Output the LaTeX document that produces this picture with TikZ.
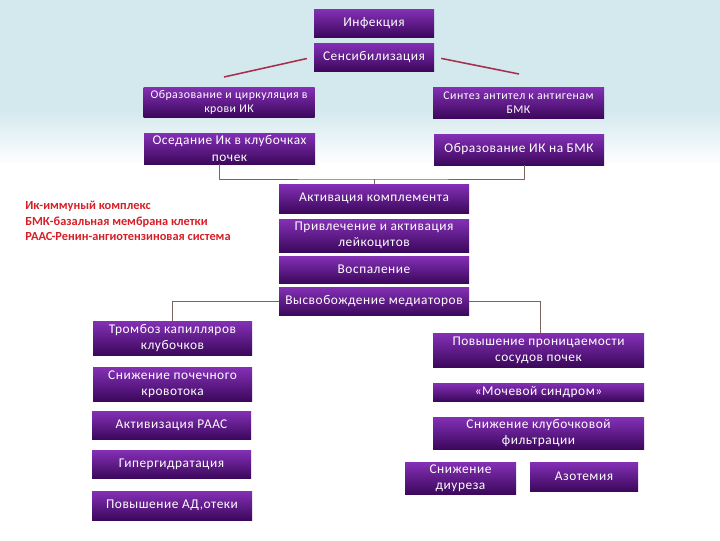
\documentclass[tikz,border=0pt]{standalone}
\usepackage{fontspec}
\setmainfont{Carlito}[LetterSpace=4]
\newfontfamily\notefont{Carlito}
\usetikzlibrary{positioning}

\definecolor{bgblue}{RGB}{212,233,238}
\definecolor{stagetop}{RGB}{132,48,182}
\definecolor{stagebot}{RGB}{60,8,92}
\definecolor{branchred}{RGB}{168,46,76}
\definecolor{linkbrown}{RGB}{125,100,88}
\definecolor{notered}{RGB}{214,32,40}

\begin{document}
\begin{tikzpicture}[
    x=0.025cm, y=-0.025cm,
    font=\fontsize{9.5}{11.5}\selectfont,
    %% ── Box styles ──────────────────────────────────────────────────────
    stage/.style={
        rectangle, draw=none,
        top color=stagetop, bottom color=stagebot,
        text=white, align=center,
        inner sep=1pt,
    },
    smallstage/.style={
        stage,
        font=\fontsize{8.4}{10}\selectfont,
    },
    boxsize/.style 2 args={
        minimum width=#1*0.025cm, minimum height=#2*0.025cm,
    },
    %% ── Line styles ─────────────────────────────────────────────────────
    %% Red branches out of the sensitisation step
    branch/.style={draw=branchred, line width=1.1pt, shorten <=5pt},
    %% Thin elbow connectors
    link/.style={draw=linkbrown, line width=0.6pt},
    note/.style={
        text=notered, font=\notefont\bfseries\fontsize{8.8}{11}\selectfont,
        align=left, anchor=north west, inner sep=0pt,
    },
]

%% background: pale blue top fading to white
\fill[bgblue] (0,0) rectangle (720,110);
\fill[top color=bgblue, bottom color=white] (0,110) rectangle (720,165);
\fill[white] (0,165) rectangle (720,540);

%%─────────────────────────────────────────────────────────────────────────
%% Top of the chain
%%─────────────────────────────────────────────────────────────────────────
\node[stage, boxsize={120}{28}] (infection)     at (374,23) {Инфекция};
\node[stage, boxsize={120}{28}] (sensitization) at (374,57) {Сенсибилизация};

%%─────────────────────────────────────────────────────────────────────────
%% Two branches
%%─────────────────────────────────────────────────────────────────────────
\node[smallstage, boxsize={171}{30}] (icCirc) at (229,102)
    {Образование и циркуляция в\\крови ИК};
\node[smallstage, boxsize={171}{31}] (abSynth) at (518.5,102.5)
    {Синтез антител к антигенам\\БМК};
\node[stage, boxsize={171}{31}] (icDepos) at (229.5,148.5)
    {Оседание Ик в клубочках\\почек};
\node[stage, boxsize={170}{31}] (icGbm) at (519,149.5)
    {Образование ИК на БМК};

%%─────────────────────────────────────────────────────────────────────────
%% Central chain
%%─────────────────────────────────────────────────────────────────────────
\node[stage, boxsize={190}{29}] (complement) at (374,198.5) {Активация комплемента};
\node[stage, boxsize={190}{33}] (leuko)      at (374,235.5)
    {Привлечение и активация\\лейкоцитов};
\node[stage, boxsize={190}{27}] (inflam)     at (374,269.5) {Воспаление};
\node[stage, boxsize={190}{28}] (mediators)  at (374,301)   {Высвобождение медиаторов};

%%─────────────────────────────────────────────────────────────────────────
%% Left column
%%─────────────────────────────────────────────────────────────────────────
\node[stage, boxsize={159}{34}] (thromb)    at (172.5,338) {Тромбоз капилляров\\клубочков};
\node[stage, boxsize={159}{34}] (bloodflow) at (172.5,384) {Снижение почечного\\кровотока};
\node[stage, boxsize={159}{28}] (raas)      at (171.5,425) {Активизация РААС};
\node[stage, boxsize={159}{28}] (hyperhyd)  at (171.5,464) {Гипергидратация};
\node[stage, boxsize={160}{29}] (pressure)  at (172,505.5) {Повышение АД,отеки};

%%─────────────────────────────────────────────────────────────────────────
%% Right column
%%─────────────────────────────────────────────────────────────────────────
\node[stage, boxsize={211}{34}] (permeab)  at (538.5,350) {Повышение проницаемости\\сосудов почек};
\node[stage, boxsize={211}{18}] (urinary)  at (538.5,392) {«Мочевой синдром»};
\node[stage, boxsize={211}{32}] (gfr)      at (538.5,433) {Снижение клубочковой\\фильтрации};
\node[stage, boxsize={111}{32}] (diuresis) at (460.5,478) {Снижение\\диуреза};
\node[stage, boxsize={108}{29}] (azotemia) at (584,476.5) {Азотемия};

%%─────────────────────────────────────────────────────────────────────────
%% Abbreviations
%%─────────────────────────────────────────────────────────────────────────
\node[note] (abbrev) at (25,201) {Ик-иммуный комплекс\\БМК-базальная мембрана клетки\\РААС-Ренин-ангиотензиновая система};

%%─────────────────────────────────────────────────────────────────────────
%% Relationships
%%─────────────────────────────────────────────────────────────────────────
\coordinate (leftEnd)  at (224,77);
\coordinate (rightEnd) at (519,74);

%% Сенсибилизация ── two branches
\draw[branch] (sensitization.west) -- (leftEnd);
\draw[branch] (sensitization.east) -- (rightEnd);

%% both branches join into the complement step
\draw[link] ([xshift=-0.25cm]icDepos.south) |- (374,179) -| ([xshift=0.125cm]icGbm.south);
\draw[link] (complement.north) -- ++(0,-5);

%% mediators split left and right
\draw[link] (mediators.west) -| (thromb.north);
\draw[link] (mediators.east) -| ([xshift=0.04cm]permeab.north);

\end{tikzpicture}
\end{document}
